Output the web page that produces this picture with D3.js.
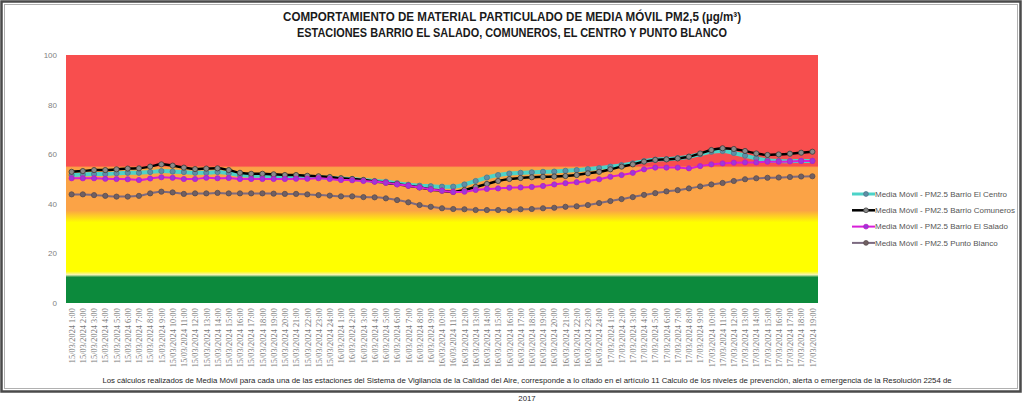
<!DOCTYPE html>
<html lang="es">
<head>
<meta charset="UTF-8">
<script src="https://cdn.jsdelivr.net/npm/d3@7"></script>
<title>Media Móvil PM2,5</title>
<style>
  body { margin: 0; background: #fff; }
  svg { display: block; }
</style>
</head>
<body>
<script>
// categorias: dia y numero de horas de cada dia
var dias = ["15/03/2024", "16/03/2024", "17/03/2024"];
var horasDia = [24, 24, 19];

var nombres = [
  "Media Móvil - PM2.5 Barrio El Centro",
  "Media Móvil - PM2.5 Barrio Comuneros",
  "Media Móvil - PM2.5 Barrio El Salado",
  "Media Móvil - PM2.5 Punto Blanco"
];

var centro = [
  51.6, 51.8, 52.0, 52.0, 52.3, 52.5, 52.5, 52.8, 53.2, 53.0, 52.8, 52.5, 52.5, 52.8, 52.3, 51.6, 51.3, 51.3, 51.2, 51.0, 51.0, 50.9,
  50.7, 50.5, 50.2, 50.0, 49.6, 49.2, 48.9, 48.3, 47.7, 47.3, 47.1, 46.9, 46.9, 47.8, 49.2, 50.6, 51.6, 52.2, 52.5, 52.7, 52.9, 53.0,
  53.3, 53.6, 54.0, 54.4, 55.0, 55.6, 56.3, 57.2, 57.8, 58.0, 58.4, 59.0, 60.0, 61.0, 61.3, 60.5, 59.4, 58.3, 57.6, 57.3, 57.2, 57.3, 57.3
];
var comuneros = [
  52.9, 53.2, 53.6, 53.6, 53.9, 54.2, 54.3, 55.0, 55.9, 55.4, 54.6, 54.0, 54.2, 54.3, 53.6, 52.5, 52.1, 52.1, 51.9, 51.6, 51.6, 51.3,
  51.1, 50.8, 50.3, 50.0, 49.6, 49.0, 48.5, 47.9, 47.3, 46.6, 45.8, 45.3, 44.8, 45.6, 46.8, 48.0, 49.2, 50.0, 50.4, 50.7, 50.9, 51.0,
  51.2, 51.6, 52.3, 52.9, 53.9, 55.0, 55.9, 57.0, 57.7, 57.9, 58.3, 59.0, 60.3, 61.7, 62.4, 62.1, 61.3, 60.3, 59.7, 59.9, 60.2, 60.6, 61.0
];
var salado = [
  50.3, 50.3, 50.3, 50.1, 50.0, 49.9, 49.6, 50.2, 50.7, 50.5, 50.0, 50.0, 50.5, 50.3, 50.4, 50.0, 50.0, 50.0, 50.0, 50.0, 50.1, 50.1,
  50.3, 50.0, 49.6, 49.5, 49.2, 48.9, 48.5, 47.8, 47.3, 46.6, 45.8, 45.3, 44.8, 44.9, 45.6, 46.0, 46.2, 46.5, 46.6, 46.8, 47.2, 47.8,
  48.3, 48.7, 49.2, 49.9, 50.9, 51.6, 52.5, 53.9, 54.6, 54.6, 54.6, 54.3, 55.2, 55.9, 56.3, 56.6, 56.7, 56.7, 57.0, 57.0, 57.1, 57.3, 57.3
];
var puntoBlanco = [
  43.8, 43.8, 43.5, 43.2, 42.9, 42.9, 43.2, 44.2, 44.9, 44.6, 44.0, 44.2, 44.2, 44.4, 44.2, 44.2, 44.2, 44.2, 44.1, 44.0, 44.0, 43.8,
  43.5, 43.3, 43.0, 43.0, 42.7, 42.6, 42.2, 41.5, 40.6, 39.5, 38.8, 38.2, 37.9, 37.8, 37.5, 37.5, 37.5, 37.5, 37.8, 37.9, 38.2, 38.4,
  38.8, 39.0, 39.5, 40.3, 41.1, 41.9, 42.7, 43.6, 44.3, 45.0, 45.5, 46.2, 47.0, 47.8, 48.4, 49.2, 49.9, 50.3, 50.5, 50.6, 50.8, 51.0, 51.1
];

// niveles del indice (limites en ug/m3)
var limitesNivel = [0, 11, 35, 55, 100];
var yTicks = [0, 20, 40, 60, 80, 100];

var titulo1 = "COMPORTAMIENTO DE MATERIAL PARTICULADO DE MEDIA MÓVIL PM2,5 (µg/m³)";
var titulo2 = "ESTACIONES BARRIO EL SALADO, COMUNEROS, EL CENTRO Y PUNTO BLANCO";
var nota1 = "Los cálculos realizados de Media Móvil para cada una de las estaciones del Sistema de Vigilancia de la Calidad del Aire, corresponde a lo citado en el artículo 11 Calculo de los niveles de prevención, alerta o emergencia de la Resolución 2254 de";
var nota2 = "2017";

var etiquetas = [];
dias.forEach(function(d, k) {
  for (var h = 1; h <= horasDia[k]; h++) etiquetas.push(d + " " + h + ":00");
});

var series = [centro, comuneros, salado, puntoBlanco];
var estilos = [
  { line: "#4cd3c8", width: 4, fill: "#5f8ea6", stroke: "#4a7a8c" },
  { line: "#000000", width: 2.5, fill: "#8a8a8a", stroke: "#3a3a3a" },
  { line: "#d81ed8", width: 2, fill: "#9a3ad6", stroke: "#c414c8" },
  { line: "#7c6a80", width: 2, fill: "#706062", stroke: "#5a4c50" }
];

var W = 1024, H = 405;
var svg = d3.select("body").append("svg").attr("width", W).attr("height", H);

var pLeft = 66, pRight = 818, pTop = 55, pBottom = 303;
var x = d3.scalePoint().domain(d3.range(etiquetas.length)).range([pLeft, pRight]).padding(0.5);
var y = d3.scaleLinear().domain([0, 100]).range([pBottom, pTop]);

// marco
svg.append("rect").attr("x", 1.5).attr("y", 1.5).attr("width", 1019).attr("height", 390)
  .attr("fill", "none").attr("stroke", "#4a4a4a").attr("stroke-width", 2.5);
svg.append("rect").attr("x", 4.5).attr("y", 4.5).attr("width", 1013).attr("height", 384)
  .attr("fill", "none").attr("stroke", "#b0b0b0").attr("stroke-width", 1);

// titulo
var font = "'Liberation Sans', sans-serif";
svg.append("text").attr("x", 512).attr("y", 21).attr("text-anchor", "middle")
  .attr("font-family", font).attr("font-weight", "bold").attr("font-size", 13)
  .attr("textLength", 458).attr("lengthAdjust", "spacingAndGlyphs")
  .attr("fill", "#1a1a1a").text(titulo1);
svg.append("text").attr("x", 512).attr("y", 37).attr("text-anchor", "middle")
  .attr("font-family", font).attr("font-weight", "bold").attr("font-size", 13)
  .attr("textLength", 430).attr("lengthAdjust", "spacingAndGlyphs")
  .attr("fill", "#1a1a1a").text(titulo2);

// fondo por niveles
var colores = ["#0c8a3c", "#ffff00", "#fba346", "#f84e4e"];
var grad = svg.append("defs").append("linearGradient").attr("id", "niveles")
  .attr("gradientUnits", "userSpaceOnUse")
  .attr("x1", 0).attr("x2", 0).attr("y1", y(0)).attr("y2", y(100));
var paradas = [
  [limitesNivel[0], colores[0]],
  [limitesNivel[1] - 0.6, colores[0]],
  [limitesNivel[1] + 0.4, "#f6f4b8"],
  [limitesNivel[1] + 1.8, colores[1]],
  [limitesNivel[2] - 2.5, colores[1]],
  [limitesNivel[2] + 2.3, colores[2]],
  [limitesNivel[3] - 0.4, colores[2]],
  [limitesNivel[3] + 0.3, colores[3]],
  [limitesNivel[4], colores[3]]
];
paradas.forEach(function(p) {
  grad.append("stop").attr("offset", (p[0] / 100)).attr("stop-color", p[1]);
});
svg.append("rect").attr("x", pLeft).attr("y", pTop).attr("width", pRight - pLeft).attr("height", pBottom - pTop)
  .attr("fill", "url(#niveles)");

// ejes
var yAxis = svg.append("g").attr("transform", "translate(" + pLeft + ",0)")
  .call(d3.axisLeft(y).tickValues(yTicks).tickSize(0).tickPadding(9));
yAxis.select(".domain").remove();
yAxis.selectAll("text").attr("font-family", font).attr("font-size", 8).attr("fill", "#7f7f7f");

var xAxis = svg.append("g").attr("transform", "translate(0," + pBottom + ")")
  .call(d3.axisBottom(x).tickSize(0).tickFormat(function(i) { return etiquetas[i]; }));
xAxis.select(".domain").remove();
xAxis.selectAll("text")
  .attr("font-family", "'Liberation Serif', serif").attr("font-size", 8.4).attr("fill", "#7a7a7a")
  .attr("text-anchor", "end")
  .attr("transform", "rotate(-90)")
  .attr("x", -5).attr("y", 0).attr("dy", "0.32em");

// series
var linea = d3.line().x(function(d, i) { return x(i); }).y(function(d) { return y(d); })
  .curve(d3.curveMonotoneX);

series.forEach(function(s, k) {
  var st = estilos[k];
  var g = svg.append("g");
  g.append("path").datum(s).attr("d", linea).attr("fill", "none")
    .attr("stroke", st.line).attr("stroke-width", st.width).attr("stroke-linejoin", "round");
  g.selectAll("circle").data(s).enter().append("circle")
    .attr("cx", function(d, i) { return x(i); })
    .attr("cy", function(d) { return y(d); })
    .attr("r", 2.6)
    .attr("fill", st.fill).attr("stroke", st.stroke).attr("stroke-width", 0.8);
});

// leyenda
var leg = svg.append("g");
nombres.forEach(function(n, k) {
  var st = estilos[k];
  var yy = 194 + k * 16.3;
  leg.append("line").attr("x1", 852).attr("x2", 875).attr("y1", yy).attr("y2", yy)
    .attr("stroke", st.line).attr("stroke-width", Math.min(st.width, 3));
  leg.append("circle").attr("cx", 866).attr("cy", yy).attr("r", 2.4)
    .attr("fill", st.fill).attr("stroke", st.stroke).attr("stroke-width", 0.8);
  leg.append("text").attr("x", 875).attr("y", yy).attr("dy", "0.33em")
    .attr("font-family", font).attr("font-size", 8).attr("fill", "#555")
    .text(n);
});

// nota
svg.append("text").attr("x", 527).attr("y", 383).attr("text-anchor", "middle")
  .attr("font-family", font).attr("font-size", 7.8).attr("fill", "#262626").text(nota1);
svg.append("text").attr("x", 527).attr("y", 401).attr("text-anchor", "middle")
  .attr("font-family", font).attr("font-size", 7.8).attr("fill", "#262626").text(nota2);
</script>
</body>
</html>
